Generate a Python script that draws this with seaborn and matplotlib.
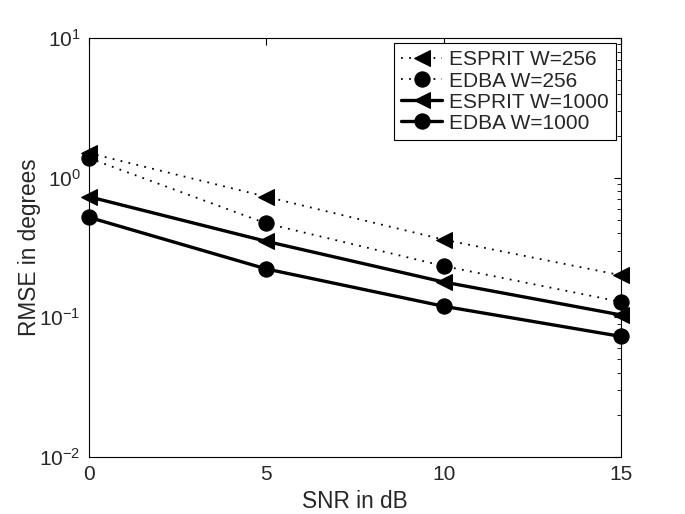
import matplotlib
matplotlib.use("Agg")
import matplotlib.pyplot as plt
import seaborn as sns
import pandas as pd
import numpy as np
from matplotlib.ticker import LogLocator, NullFormatter

sns.set_style("white")
plt.rcParams['font.family'] = ['Liberation Sans', 'DejaVu Sans']
plt.rcParams['mathtext.fontset'] = 'custom'
plt.rcParams['mathtext.rm'] = 'Liberation Sans'
plt.rcParams['mathtext.it'] = 'Liberation Sans'

snr = [0, 5, 10, 15]
esprit_256 = [1.50, 0.73, 0.36, 0.20]
edba_256 = [1.38, 0.47, 0.233, 0.129]
esprit_1000 = [0.73, 0.35, 0.179, 0.104]
edba_1000 = [0.52, 0.222, 0.12, 0.073]
labels = ["ESPRIT W=256", "EDBA W=256", "ESPRIT W=1000", "EDBA W=1000"]

series = [esprit_256, edba_256, esprit_1000, edba_1000]
styles = [dict(marker='<', linestyle=(0, (1, 3.5)), lw=1.3),
          dict(marker='o', linestyle=(0, (1, 3.5)), lw=1.3),
          dict(marker='<', linestyle='-', lw=2.4),
          dict(marker='o', linestyle='-', lw=2.4)]

fig = plt.figure(figsize=(6.85, 5.14), dpi=100)
ax = fig.add_axes([89/685, 1-457/514, (621-89)/685, (457-38)/514])

for vals, lab, st in zip(series, labels, styles):
    df = pd.DataFrame({"SNR": snr, "RMSE": vals})
    sns.lineplot(data=df, x="SNR", y="RMSE", ax=ax, color='black',
                 marker=st['marker'], linestyle=st['linestyle'], linewidth=st['lw'],
                 markersize=11, markeredgecolor='black', markerfacecolor='black',
                 label=lab, clip_on=False)

ax.set_yscale('log')
ax.set_xlim(0, 15)
ax.set_ylim(1e-2, 1e1)
ax.set_xticks([0, 5, 10, 15])
ax.yaxis.set_major_locator(LogLocator(base=10, numticks=10))
ax.yaxis.set_minor_locator(LogLocator(base=10, subs=np.arange(2, 10), numticks=10))
ax.yaxis.set_minor_formatter(NullFormatter())
ax.tick_params(which='both', direction='in', top=True, right=True, labelsize=15, color='black')
ax.tick_params(which='major', length=5, pad=6)
ax.tick_params(which='minor', length=3)
ax.tick_params(axis='x', which='minor', bottom=False, top=False)
for s in ax.spines.values():
    s.set_color('black')
    s.set_linewidth(0.8)
ax.set_xlabel("SNR in dB", fontsize=16.3, labelpad=4)
ax.set_ylabel("RMSE in degrees", fontsize=16.3, labelpad=-1.5)

leg = ax.legend(loc='upper right', fontsize=15, frameon=True, fancybox=False,
                edgecolor='black', framealpha=1, handlelength=2.0,
                borderaxespad=0.25, labelspacing=0.1, handletextpad=0.3,
                borderpad=0.35)
leg.get_frame().set_linewidth(0.8)

fig.savefig("out.png", dpi=100)
